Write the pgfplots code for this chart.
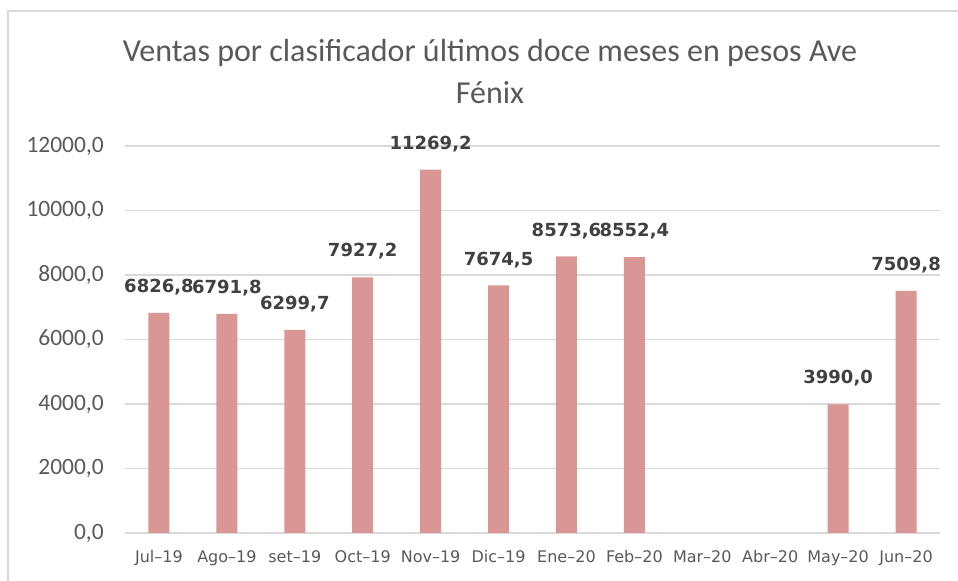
\documentclass[border=0pt]{standalone}
\usepackage{pgfplots}
\pgfplotsset{compat=1.18}
\usepackage{fontspec}
\setmainfont{Carlito}
\newfontfamily\dejavu{DejaVu Sans}
\definecolor{barc}{HTML}{D99694}
\definecolor{gridc}{HTML}{D9D9D9}
\definecolor{tickc}{HTML}{595959}
\definecolor{labc}{HTML}{404040}
\begin{document}
\begin{tikzpicture}[x=0.75pt,y=0.75pt]
\path[use as bounding box] (0,0) rectangle (958,581);
\draw[gridc, line width=1.7pt] (8,-10) -- (8,570) -- (980,570);
\node[anchor=base, text=tickc, font=\fontsize{24}{31.5}\selectfont, inner sep=0pt] at (490,519)
  {Ventas por clasificador últimos doce meses en pesos Ave};
\node[anchor=base, text=tickc, font=\fontsize{24}{31.5}\selectfont, inner sep=0pt] at (490,477)
  {Fénix};
\begin{axis}[
  at={(93.75pt,36pt)}, anchor=south west,
  width=611.25pt, height=290.25pt, scale only axis,
  xmin=-0.5, xmax=11.5, ymin=0, ymax=12000,
  xtick={0,...,11},
  xticklabels={Jul–19,Ago–19,set–19,Oct–19,Nov–19,Dic–19,Ene–20,Feb–20,Mar–20,Abr–20,May–20,Jun–20},
  ytick={0,2000,...,12000},
  scaled y ticks=false,
  axis line style={draw=none},
  major tick length=0pt,
  ymajorgrids, grid style={gridc, line width=1.3pt},
  /pgf/number format/fixed, /pgf/number format/fixed zerofill,
  /pgf/number format/precision=1, /pgf/number format/use comma,
  /pgf/number format/1000 sep={}, /pgf/number format/assume math mode=true,
  yticklabel style={font=\fontsize{17.6}{20}\selectfont, text=tickc, anchor=east, inner sep=0pt, xshift=-15.75pt},
  xticklabel style={font=\dejavu\fontsize{12}{14}\selectfont, text=tickc, anchor=base, inner sep=0pt, yshift=-22.5pt},
  ybar, bar width=15.75pt,
  nodes near coords,
  nodes near coords style={font=\dejavu\bfseries\fontsize{13.5}{15}\selectfont, text=labc, anchor=south, inner sep=0pt, yshift=13.2pt},
  clip=false,
]
\addplot[fill=barc, draw=none] coordinates {
  (0,6826.8) (1,6791.8) (2,6299.7) (3,7927.2) (4,11269.2) (5,7674.5)
  (6,8573.6) (7,8552.4) (10,3990.0) (11,7509.8)
};
\end{axis}
\end{tikzpicture}
\end{document}
